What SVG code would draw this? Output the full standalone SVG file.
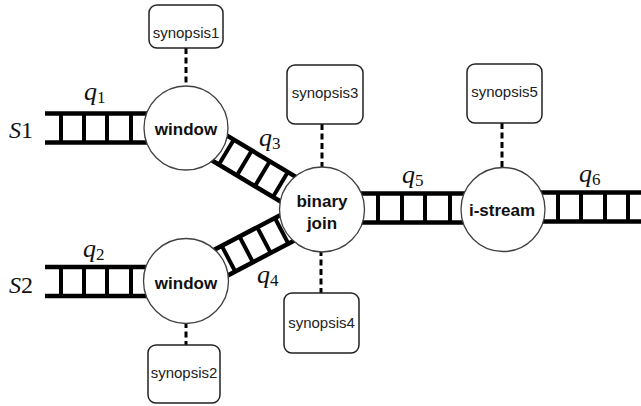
<svg xmlns="http://www.w3.org/2000/svg" width="641" height="406" viewBox="0 0 641 406">
  <style>
    .rail { stroke: #000; stroke-width: 4.5; fill: none; }
    .rung { stroke: #000; stroke-width: 4; }
    .dash { stroke: #000; stroke-width: 3; stroke-dasharray: 6 3.5; fill: none; }
    .op { fill: #fff; stroke: #404040; stroke-width: 1.3; }
    .syn { fill: #fff; stroke: #222; stroke-width: 1.5; }
    .opText { font-family: "Liberation Sans", Arial, sans-serif; font-weight: bold; font-size: 17px; fill: #111; text-anchor: middle; }
    .synText { font-family: "Liberation Sans", Arial, sans-serif; font-size: 15px; fill: #222; text-anchor: middle; }
    .math { font-family: "Liberation Serif", "Times New Roman", serif; font-size: 24px; fill: #111; }
    .mi { font-style: italic; }
    .q { font-size: 26px; }
    .sub { font-size: 17px; }
  </style>

  <g id="connectors">
    <!-- q1: S1 -> window -->
    <g id="q1">
      <line class="rail" x1="45" y1="113.5" x2="165" y2="113.5"/>
      <line class="rail" x1="45" y1="142.5" x2="165" y2="142.5"/>
      <line class="rung" x1="61" y1="113.5" x2="61" y2="142.5"/>
      <line class="rung" x1="84" y1="113.5" x2="84" y2="142.5"/>
      <line class="rung" x1="107" y1="113.5" x2="107" y2="142.5"/>
      <line class="rung" x1="131" y1="113.5" x2="131" y2="142.5"/>
    </g>
    <!-- q2: S2 -> window -->
    <g id="q2">
      <line class="rail" x1="45" y1="267" x2="165" y2="267"/>
      <line class="rail" x1="45" y1="296" x2="165" y2="296"/>
      <line class="rung" x1="61" y1="267" x2="61" y2="296"/>
      <line class="rung" x1="84" y1="267" x2="84" y2="296"/>
      <line class="rung" x1="107" y1="267" x2="107" y2="296"/>
      <line class="rung" x1="131" y1="267" x2="131" y2="296"/>
    </g>
    <!-- q3: window -> binary join -->
    <g id="q3" transform="translate(186,128) rotate(30.9)">
      <line class="rail" x1="25" y1="-14.5" x2="135" y2="-14.5"/>
      <line class="rail" x1="25" y1="14.5" x2="135" y2="14.5"/>
      <line class="rung" x1="47" y1="-14.5" x2="47" y2="14.5"/>
      <line class="rung" x1="68" y1="-14.5" x2="68" y2="14.5"/>
      <line class="rung" x1="89" y1="-14.5" x2="89" y2="14.5"/>
      <line class="rung" x1="110" y1="-14.5" x2="110" y2="14.5"/>
    </g>
    <!-- q4: window -> binary join -->
    <g id="q4" transform="translate(186,281) rotate(-27.7)">
      <line class="rail" x1="25" y1="-14.5" x2="130" y2="-14.5"/>
      <line class="rail" x1="25" y1="14.5" x2="130" y2="14.5"/>
      <line class="rung" x1="48" y1="-14.5" x2="48" y2="14.5"/>
      <line class="rung" x1="68" y1="-14.5" x2="68" y2="14.5"/>
      <line class="rung" x1="88" y1="-14.5" x2="88" y2="14.5"/>
      <line class="rung" x1="108" y1="-14.5" x2="108" y2="14.5"/>
    </g>
    <!-- q5: binary join -> i-stream -->
    <g id="q5">
      <line class="rail" x1="345" y1="193.5" x2="480" y2="193.5"/>
      <line class="rail" x1="345" y1="222.5" x2="480" y2="222.5"/>
      <line class="rung" x1="378" y1="193.5" x2="378" y2="222.5"/>
      <line class="rung" x1="402" y1="193.5" x2="402" y2="222.5"/>
      <line class="rung" x1="425" y1="193.5" x2="425" y2="222.5"/>
      <line class="rung" x1="450" y1="193.5" x2="450" y2="222.5"/>
    </g>
    <!-- q6: i-stream -> output -->
    <g id="q6">
      <line class="rail" x1="525" y1="192.5" x2="641" y2="192.5"/>
      <line class="rail" x1="525" y1="221.5" x2="641" y2="221.5"/>
      <line class="rung" x1="558" y1="192.5" x2="558" y2="221.5"/>
      <line class="rung" x1="581" y1="192.5" x2="581" y2="221.5"/>
      <line class="rung" x1="605" y1="192.5" x2="605" y2="221.5"/>
      <line class="rung" x1="628" y1="192.5" x2="628" y2="221.5"/>
    </g>
    <!-- synopsis links -->
    <line class="dash" x1="186" y1="48" x2="186" y2="88"/>
    <line class="dash" x1="186" y1="322" x2="186" y2="345"/>
    <line class="dash" x1="322" y1="124" x2="322" y2="168"/>
    <line class="dash" x1="321" y1="250" x2="321" y2="293"/>
    <line class="dash" x1="502" y1="123" x2="502" y2="168"/>
  </g>

  <!-- queue and stream labels -->
  <g id="labels" class="math">
    <text x="9" y="138"><tspan class="mi">S</tspan>1</text>
    <text x="9" y="293"><tspan class="mi">S</tspan>2</text>
    <text class="q" x="84" y="100"><tspan class="mi">q</tspan><tspan class="sub" dy="3">1</tspan></text>
    <text class="q" x="83" y="257"><tspan class="mi">q</tspan><tspan class="sub" dy="3">2</tspan></text>
    <text class="q" x="259" y="146"><tspan class="mi">q</tspan><tspan class="sub" dy="3">3</tspan></text>
    <text class="q" x="257" y="283"><tspan class="mi">q</tspan><tspan class="sub" dy="3">4</tspan></text>
    <text class="q" x="402" y="183"><tspan class="mi">q</tspan><tspan class="sub" dy="3">5</tspan></text>
    <text class="q" x="579" y="182"><tspan class="mi">q</tspan><tspan class="sub" dy="3">6</tspan></text>
  </g>

  <g id="window1">
    <circle class="op" cx="186" cy="128" r="42"/>
    <text class="opText" x="186" y="135">window</text>
  </g>
  <g id="window2">
    <circle class="op" cx="186" cy="281" r="42.5"/>
    <text class="opText" x="186" y="289">window</text>
  </g>
  <g id="binaryJoin">
    <circle class="op" cx="322" cy="209.5" r="42.5"/>
    <text class="opText" x="322" y="207">binary</text>
    <text class="opText" x="322" y="229">join</text>
  </g>
  <g id="istream">
    <circle class="op" cx="503" cy="209.5" r="42"/>
    <text class="opText" x="502" y="216">i-stream</text>
  </g>

  <g id="synopsis1">
    <rect class="syn" x="149" y="5" width="74" height="43" rx="8"/>
    <text class="synText" x="186" y="38">synopsis1</text>
  </g>
  <g id="synopsis2">
    <rect class="syn" x="148" y="345" width="72" height="58" rx="8"/>
    <text class="synText" x="184" y="378">synopsis2</text>
  </g>
  <g id="synopsis3">
    <rect class="syn" x="287" y="65" width="76" height="59" rx="8"/>
    <text class="synText" x="325" y="98">synopsis3</text>
  </g>
  <g id="synopsis4">
    <rect class="syn" x="284" y="293" width="75" height="60" rx="8"/>
    <text class="synText" x="321.5" y="328">synopsis4</text>
  </g>
  <g id="synopsis5">
    <rect class="syn" x="467" y="64" width="75" height="59" rx="8"/>
    <text class="synText" x="504.5" y="97">synopsis5</text>
  </g>
</svg>
